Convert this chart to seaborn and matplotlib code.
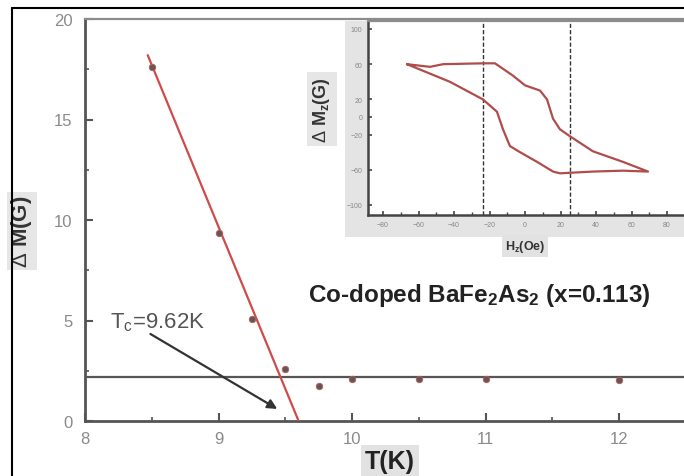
import matplotlib
matplotlib.use("Agg")
import numpy as np
import pandas as pd
import matplotlib.pyplot as plt
import seaborn as sns
from matplotlib.lines import Line2D
from matplotlib.patches import Rectangle
from matplotlib.ticker import MultipleLocator, FixedLocator

# ---------------- data ----------------
T_K = [8.5, 9.0, 9.25, 9.5, 9.75, 10.0, 10.5, 11.0, 12.0]
dM_G = [17.6, 9.35, 5.05, 2.6, 1.75, 2.1, 2.1, 2.1, 2.05]
fit_T = [8.47, 9.6]
fit_M = [18.2, 0.0]
baseline_M = 2.2
x_ticks = [8, 9, 10, 11, 12]
y_ticks = [0, 5, 10, 15, 20]
tc_text = r"T$_\mathrm{c}$=9.62K"
title_text = r"Co-doped BaFe$_\mathbf{2}$As$_\mathbf{2}$ (x=0.113)"

# inset hysteresis loop
hz_up = [-66.5, -53.5, -46.2, -23.7, -16.9, -6.8, 0.0, 2.8, 8.5, 12.4, 15.8, 19.7, 25.4, 38.3, 55.2, 69.3]
mz_up = [60, 57, 60, 61, 61, 47, 36, 34, 30, 20, -2, -14, -22, -39, -51, -62]
hz_down = [69.3, 55.2, 38.3, 19.7, 15.8, 6.8, -2.8, -8.5, -12.4, -15.8, -23.7, -42.3, -66.5]
mz_down = [-62, -61, -62, -64, -62, -51, -40, -33, -14, 6, 20, 40, 60]
hc_lines = [-23.7, 25.4]
inset_xticks = [-80, -60, -40, -20, 0, 20, 40, 60, 80]
inset_yticks = [-100, -60, -20, 0, 20, 60, 100]

# ---------------- style ----------------
sns.set_theme(style="ticks")
plt.rcParams["font.family"] = ["Liberation Sans", "DejaVu Sans"]
plt.rcParams["mathtext.fontset"] = "custom"
plt.rcParams["mathtext.rm"] = "Liberation Sans"
plt.rcParams["mathtext.bf"] = "Liberation Sans:bold"
plt.rcParams["mathtext.it"] = "Liberation Sans:italic"

W, H = 684, 477
fig = plt.figure(figsize=(W / 100, H / 100), dpi=100)
fig.patch.set_facecolor("white")


def fr(x0, y0, x1, y1):
    return [x0 / W, 1 - y1 / H, (x1 - x0) / W, (y1 - y0) / H]


# ---------------- main axes ----------------
ax = fig.add_axes(fr(85, 20, 684, 422))
ax.set_zorder(0)
main_df = pd.DataFrame({"T": T_K, "dM": dM_G})
fit_df = pd.DataFrame({"T": fit_T, "dM": fit_M})

ax.axhline(baseline_M, color="#555555", lw=1.6, zorder=2)
sns.lineplot(data=fit_df, x="T", y="dM", ax=ax, color="#d04a4a", lw=1.6,
             sort=False, estimator=None, zorder=3)
sns.scatterplot(data=main_df, x="T", y="dM", ax=ax, color="#6a5555",
                edgecolor="#b06060", s=22, marker="o", linewidth=0.6, zorder=4)

ax.set_xlim(8, 8 + 599 / 133.5)
ax.set_ylim(0, 20)
ax.xaxis.set_major_locator(FixedLocator(x_ticks))
ax.yaxis.set_major_locator(FixedLocator(y_ticks))
ax.xaxis.set_minor_locator(MultipleLocator(0.5))
ax.yaxis.set_minor_locator(MultipleLocator(2.5))
ax.tick_params(which="major", direction="in", length=6, width=1.5, color="#555555",
               labelsize=12, labelcolor="#8a8a8a")
ax.tick_params(which="minor", direction="in", length=3, width=1.2, color="#555555")
ax.tick_params(axis="x", pad=7)
ax.tick_params(axis="y", pad=9)
for s in ["left", "bottom"]:
    ax.spines[s].set_color("#555555")
    ax.spines[s].set_linewidth(2.0)
ax.spines["top"].set_color("#8c8c8c")
ax.spines["top"].set_linewidth(1.6)
ax.spines["right"].set_visible(False)

ax.set_xlabel("T(K)", fontsize=18, fontweight="bold", color="#222222",
              bbox=dict(facecolor="#e2e2e2", edgecolor="none", pad=3))
ax.xaxis.label.set_va("center")
ax.xaxis.set_label_coords((390 - 85) / 599, (422 - 462) / 402)
ax.set_ylabel(r"$\Delta$ M(G)", fontsize=16, fontweight="bold", color="#333333",
              bbox=dict(facecolor="#e6e6e6", edgecolor="none", pad=2))
ax.yaxis.label.set_va("center")
ax.yaxis.set_label_coords((22 - 85) / 599, (422 - 232) / 402)

ax.text(8.187, 4.93, tc_text, fontsize=16, color="#555555", ha="left", va="center")
ax.annotate("", xy=(9.44, 0.6), xytext=(8.49, 4.33),
            arrowprops=dict(arrowstyle="-|>", color="#333333", lw=1.6,
                            mutation_scale=14, shrinkA=0, shrinkB=0))
ax.text(9.67, 6.27, title_text, fontsize=17.5, fontweight="bold", color="#222222",
        ha="left", va="center")

# gray background strips around inset labels
fig.patches.append(Rectangle((345 / W, 1 - 216 / H), 23 / W, 194 / H,
                             transform=fig.transFigure, facecolor="#e4e4e4",
                             edgecolor="none", zorder=0.5))
fig.patches.append(Rectangle((345 / W, 1 - 238 / H), (684 - 345) / W, 22 / H,
                             transform=fig.transFigure, facecolor="#e4e4e4",
                             edgecolor="none", zorder=0.5))

# ---------------- inset ----------------
ins = fig.add_axes(fr(368, 22, 684, 216))
ins.set_zorder(1)
ins.set_facecolor("white")
loop_df = pd.DataFrame({
    "Hz": hz_up + hz_down,
    "Mz": mz_up + mz_down,
})
sns.lineplot(data=loop_df, x="Hz", y="Mz", ax=ins, color="#b04c4c", lw=1.6,
             sort=False, estimator=None, zorder=3)
for hc in hc_lines:
    ins.axvline(hc, color="#333333", lw=1.0, ls=(0, (3, 1.5)), zorder=2)
ins.set_xlim((368 - 525) / 1.775, (684 - 525) / 1.775)
ins.set_ylim((118 - 216) / 0.88, (118 - 22) / 0.88)
ins.xaxis.set_major_locator(FixedLocator(inset_xticks))
ins.xaxis.set_minor_locator(MultipleLocator(10))
ins.yaxis.set_major_locator(FixedLocator(inset_yticks))
ins.tick_params(which="major", direction="in", length=3, width=1.2, color="#444444",
                labelsize=5, labelcolor="#888888", pad=4)
ins.tick_params(which="minor", direction="in", length=2, width=1.0, color="#444444")
for s in ["left", "bottom"]:
    ins.spines[s].set_color("#444444")
    ins.spines[s].set_linewidth(1.8)
ins.spines["top"].set_color("#8c8c8c")
ins.spines["top"].set_linewidth(1.6)
ins.spines["right"].set_visible(False)

ins.set_xlabel(r"H$_\mathbf{z}$(Oe)", fontsize=9, fontweight="bold", color="#333333",
               bbox=dict(facecolor="#e2e2e2", edgecolor="none", pad=2))
ins.xaxis.label.set_va("center")
ins.xaxis.set_label_coords((525 - 368) / 316, (216 - 247) / 194)
ins.set_ylabel(r"$\Delta$ M$_\mathbf{z}$(G)", fontsize=13, fontweight="bold", color="#333333",
               bbox=dict(facecolor="#e6e6e6", edgecolor="none", pad=3))
ins.yaxis.label.set_va("center")
ins.yaxis.set_label_coords((322 - 368) / 316, (216 - 110) / 194)

# outer frame lines (left and top)
fig.add_artist(Line2D([12 / W, 12 / W], [0, 1 - 9 / H], transform=fig.transFigure,
                      color="black", lw=1.5, zorder=5))
fig.add_artist(Line2D([12 / W, 1], [1 - 9 / H, 1 - 9 / H], transform=fig.transFigure,
                      color="black", lw=1.5, zorder=5))

fig.savefig("out.png", dpi=100)
